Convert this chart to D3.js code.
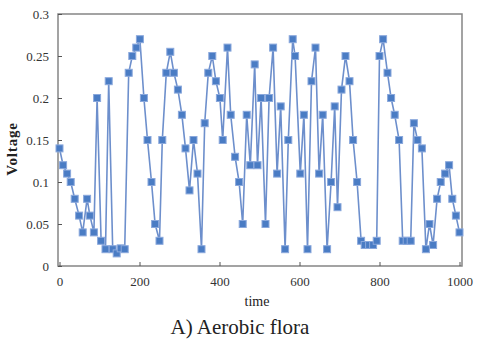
<!DOCTYPE html>
<meta charset="utf-8">
<style>
  body { margin: 0; background: #fff; }
</style>
<body>
<script src="https://cdn.jsdelivr.net/npm/d3@7"></script>
<script>

// time
var times = [0, 9, 19, 28, 38, 49, 58, 69, 76, 86,
    94, 104, 115, 123, 133, 143, 153, 163, 173, 182,
    192, 201, 211, 220, 230, 239, 250, 257, 267, 277,
    286, 296, 306, 315, 325, 335, 345, 355, 363, 372,
    382, 391, 401, 408, 420, 428, 439, 449, 458, 468,
    477, 488, 495, 504, 515, 524, 534, 544, 553, 564,
    572, 583, 589, 602, 611, 620, 630, 640, 649, 658,
    669, 679, 688, 695, 705, 715, 725, 734, 744, 754,
    763, 774, 784, 793, 800, 809, 820, 829, 838, 849,
    858, 868, 878, 886, 895, 906, 916, 925, 934, 944,
    953, 964, 974, 982, 991, 1000];

// voltage at each time
var voltage = [0.14, 0.12, 0.11, 0.10, 0.08, 0.06, 0.04, 0.08, 0.06, 0.04,
    0.20, 0.03, 0.02, 0.22, 0.02, 0.015, 0.021, 0.02, 0.23, 0.25,
    0.26, 0.27, 0.20, 0.15, 0.10, 0.05, 0.03, 0.15, 0.23, 0.255,
    0.23, 0.21, 0.18, 0.14, 0.09, 0.15, 0.11, 0.02, 0.17, 0.23,
    0.25, 0.22, 0.20, 0.15, 0.26, 0.18, 0.13, 0.10, 0.05, 0.18,
    0.12, 0.24, 0.12, 0.20, 0.05, 0.20, 0.26, 0.11, 0.19, 0.02,
    0.15, 0.27, 0.25, 0.11, 0.18, 0.02, 0.22, 0.26, 0.11, 0.18,
    0.02, 0.10, 0.19, 0.07, 0.21, 0.25, 0.22, 0.15, 0.10, 0.03,
    0.025, 0.025, 0.025, 0.03, 0.25, 0.27, 0.23, 0.20, 0.18, 0.15,
    0.03, 0.03, 0.03, 0.17, 0.15, 0.14, 0.02, 0.05, 0.025, 0.08,
    0.10, 0.11, 0.12, 0.08, 0.06, 0.04];

var xTicks = [0, 200, 400, 600, 800, 1000];
var yTicks = [0, 0.05, 0.1, 0.15, 0.2, 0.25, 0.3];

var data = times.map(function(t, i) { return {t: t, v: voltage[i]}; });

var width = 480, height = 340;
var serif = "'Liberation Serif', 'Times New Roman', Times, serif";
var plot = {left: 58, right: 462, top: 14, bottom: 266};

var svg = d3.select("body").append("svg")
    .attr("width", width).attr("height", height);

var x = d3.scaleLinear().domain([0, 1000]).range([59.5, 459.5]);
var y = d3.scaleLinear().domain([0, 0.3]).range([plot.bottom, plot.top]);

// plot frame
svg.append("rect")
    .attr("x", plot.left).attr("y", plot.top)
    .attr("width", plot.right - plot.left)
    .attr("height", plot.bottom - plot.top)
    .attr("fill", "none").attr("stroke", "#858585").attr("stroke-width", 1.5);

// axes with inner ticks
var xAxis = svg.append("g")
    .attr("transform", "translate(0," + plot.bottom + ")")
    .call(d3.axisBottom(x).tickValues(xTicks).tickSizeInner(-4).tickSizeOuter(0).tickPadding(11)
        .tickFormat(d3.format("d")));
var yAxis = svg.append("g")
    .attr("transform", "translate(" + plot.left + ",0)")
    .call(d3.axisLeft(y).tickValues(yTicks).tickSizeInner(-4).tickSizeOuter(0).tickPadding(9)
        .tickFormat(function(d) { return String(+d.toFixed(2)); }));

[xAxis, yAxis].forEach(function(g) {
    g.attr("font-family", serif).attr("font-size", 13);
    g.select(".domain").remove();
    g.selectAll("line").attr("stroke", "#555");
    g.selectAll("text").attr("fill", "#333");
});

// series line
svg.append("path")
    .datum(data)
    .attr("fill", "none")
    .attr("stroke", "#6d8fcc")
    .attr("stroke-width", 1.6)
    .attr("d", d3.line().x(function(d) { return x(d.t); }).y(function(d) { return y(d.v); }));

// square markers
var s = 7;
svg.append("g").selectAll("rect")
    .data(data)
    .enter().append("rect")
    .attr("x", function(d) { return x(d.t) - s / 2; })
    .attr("y", function(d) { return y(d.v) - s / 2; })
    .attr("width", s).attr("height", s)
    .attr("fill", "#4a7cc4")
    .attr("stroke", "#8aa8dc")
    .attr("stroke-width", 1);

// labels
svg.append("text")
    .attr("transform", "translate(17,149) rotate(-90)")
    .attr("text-anchor", "middle")
    .attr("font-family", serif)
    .attr("font-size", 15).attr("font-weight", "bold").attr("fill", "#222")
    .attr("letter-spacing", 0.8)
    .text("Voltage");

svg.append("text")
    .attr("x", 257).attr("y", 306)
    .attr("text-anchor", "middle")
    .attr("font-family", serif)
    .attr("font-size", 14).attr("fill", "#222")
    .text("time");

svg.append("text")
    .attr("x", 240).attr("y", 334)
    .attr("text-anchor", "middle")
    .attr("font-family", serif)
    .attr("font-size", 21).attr("fill", "#222")
    .text("A) Aerobic flora");

</script>
</body>
